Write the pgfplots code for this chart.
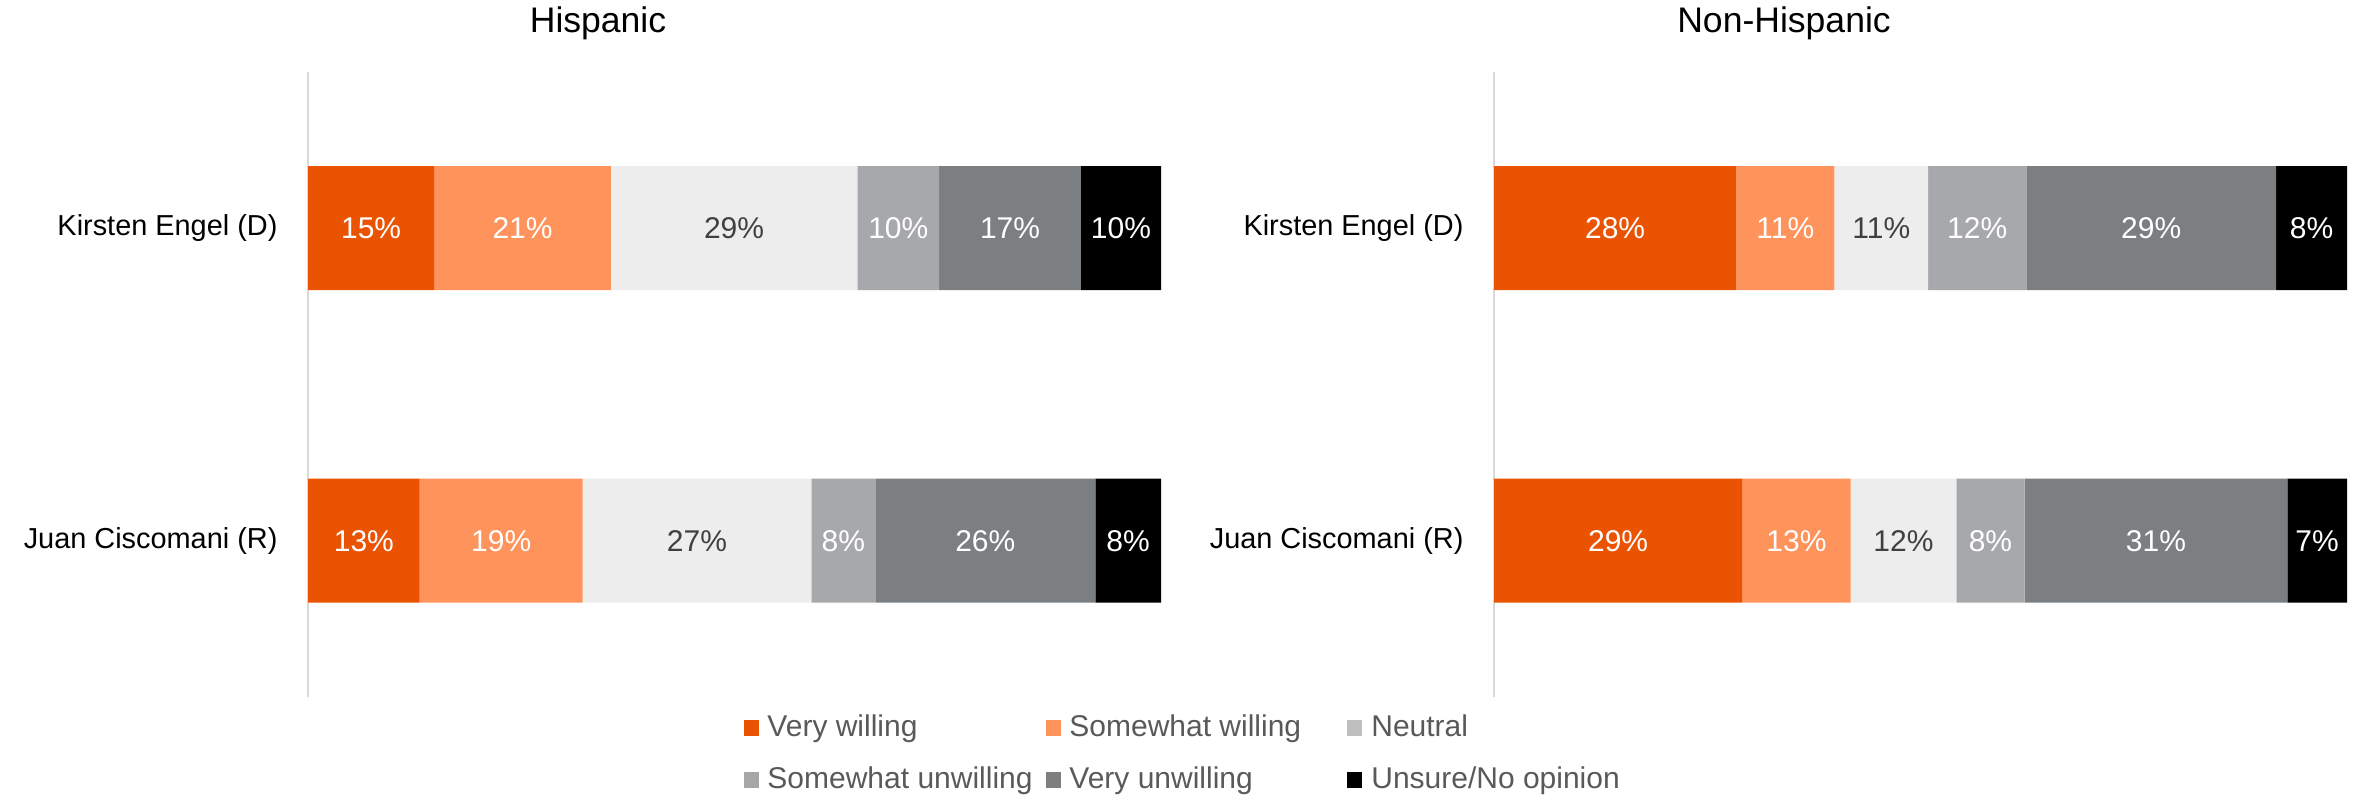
\documentclass[border=0pt]{standalone}
\usepackage{fontspec}
\setmainfont{Liberation Sans}
\usepackage{pgfplots}
\pgfplotsset{compat=1.18}
\definecolor{cVW}{HTML}{E95302}
\definecolor{cSW}{HTML}{FF935C}
\definecolor{cNE}{HTML}{ECEDEC}
\definecolor{cSU}{HTML}{A6A8AB}
\definecolor{cVU}{HTML}{7B7F82}
\definecolor{cUN}{HTML}{000000}
\definecolor{cNEleg}{HTML}{BFBFBF}
\definecolor{cSUleg}{HTML}{A6A6A6}
\definecolor{cVUleg}{HTML}{7F7F7F}
\definecolor{labdark}{HTML}{404040}
\definecolor{legtext}{HTML}{595959}
\definecolor{axgrey}{HTML}{D9D9D9}
\newcommand{\lfont}{\fontsize{10.8}{13}\selectfont}
\newcommand{\tfont}{\fontsize{10.4}{12.5}\selectfont}
\pgfplotsset{
  panelgeom/.style={
    scale only axis, width=307.08pt, height=225pt,
    xmin=0, xmax=100, ymin=-0.5, ymax=1.5, clip=false,
    /pgf/number format/assume math mode=true,
  },
  panel/.style={
    panelgeom,
    xbar stacked, bar width=44.64pt,
    axis x line=none, axis y line*=left,
    y axis line style={draw=axgrey, line width=0.8pt},
    major tick length=0pt, xtick=\empty,
    ytick={0,1}, yticklabels={Juan Ciscomani (R),Kirsten Engel (D)},
    yticklabel style={font=\tfont, text=black, anchor=east, inner sep=0pt, xshift=-10.8pt},
    title style={at={(axis description cs:0.34,1.037)}, anchor=base, font=\fontsize{12.8}{15}\selectfont, inner sep=0pt},
  },
  labs/.style={
    panelgeom, hide axis,
    every node near coord/.append style={anchor=center, font=\lfont},
  },
  sq/.style={legend image code/.code={\fill[#1] (0pt,-2.88pt) rectangle (5.4pt,2.88pt);}},
}
\begin{document}
\begin{tikzpicture}
\path[use as bounding box] (0,0) rectangle (848.16pt,288pt);
% ---------------- Hispanic ----------------
\begin{axis}[panel, at={(110.88pt,37.08pt)}, anchor=south west, title={Hispanic},
  legend columns=3, legend cell align=left,
  legend style={at={(axis description cs:0.51,-0.021)}, anchor=north west, draw=none, fill=none,
    font=\lfont, text=legtext, inner sep=0pt, row sep=6pt, column sep=0pt,
    nodes={inner xsep=3.2pt, inner ysep=1.6pt}},
  ]
\addplot[fill=cVW, draw=none, sq=cVW] coordinates {(14.8,1) (13.1,0)};
\addlegendentry{\makebox[96.9pt][l]{Very willing}}
\addplot[fill=cSW, draw=none, sq=cSW] coordinates {(20.7,1) (19.1,0)};
\addlegendentry{\makebox[96.9pt][l]{Somewhat willing}}
\addplot[fill=cNE, draw=none, sq=cNEleg] coordinates {(28.9,1) (26.8,0)};
\addlegendentry{Neutral}
\addplot[fill=cSU, draw=none, sq=cSUleg] coordinates {(9.6,1) (7.5,0)};
\addlegendentry{\makebox[96.9pt][l]{Somewhat unwilling}}
\addplot[fill=cVU, draw=none, sq=cVUleg] coordinates {(16.6,1) (25.8,0)};
\addlegendentry{\makebox[96.9pt][l]{Very unwilling}}
\addplot[fill=cUN, draw=none, sq=cUN] coordinates {(9.4,1) (7.7,0)};
\addlegendentry{Unsure/No opinion}
\end{axis}
\begin{axis}[labs, at={(110.88pt,37.08pt)}, anchor=south west]
\addplot[draw=none, mark=none, nodes near coords, point meta=explicit symbolic,
  every node near coord/.append style={text=white}] coordinates {
  (7.4,1)[15\%] (25.15,1)[21\%] (69.2,1)[10\%] (82.3,1)[17\%] (95.3,1)[10\%]
  (6.55,0)[13\%] (22.65,0)[19\%] (62.75,0)[8\%] (79.4,0)[26\%] (96.15,0)[8\%]};
\addplot[draw=none, mark=none, nodes near coords, point meta=explicit symbolic,
  every node near coord/.append style={text=labdark}] coordinates {
  (49.95,1)[29\%] (45.6,0)[27\%]};
\end{axis}
% ---------------- Non-Hispanic ----------------
\begin{axis}[panel, at={(537.84pt,37.08pt)}, anchor=south west, title={Non-Hispanic}]
\addplot[fill=cVW, draw=none] coordinates {(28.4,1) (29.1,0)};
\addplot[fill=cSW, draw=none] coordinates {(11.5,1) (12.7,0)};
\addplot[fill=cNE, draw=none] coordinates {(11.0,1) (12.4,0)};
\addplot[fill=cSU, draw=none] coordinates {(11.5,1) (8.0,0)};
\addplot[fill=cVU, draw=none] coordinates {(29.3,1) (30.8,0)};
\addplot[fill=cUN, draw=none] coordinates {(8.3,1) (7.0,0)};
\end{axis}
\begin{axis}[labs, at={(537.84pt,37.08pt)}, anchor=south west]
\addplot[draw=none, mark=none, nodes near coords, point meta=explicit symbolic,
  every node near coord/.append style={text=white}] coordinates {
  (14.2,1)[28\%] (34.15,1)[11\%] (56.65,1)[12\%] (77.05,1)[29\%] (95.85,1)[8\%]
  (14.55,0)[29\%] (35.45,0)[13\%] (58.2,0)[8\%] (77.6,0)[31\%] (96.5,0)[7\%]};
\addplot[draw=none, mark=none, nodes near coords, point meta=explicit symbolic,
  every node near coord/.append style={text=labdark}] coordinates {
  (45.4,1)[11\%] (48.0,0)[12\%]};
\end{axis}
\end{tikzpicture}
\end{document}
